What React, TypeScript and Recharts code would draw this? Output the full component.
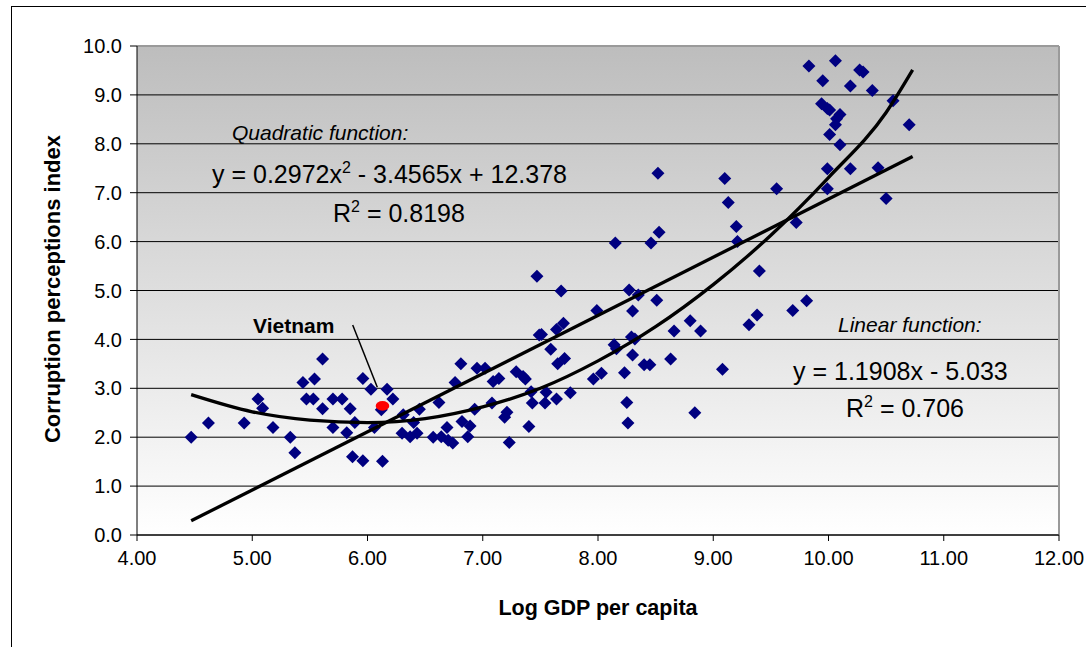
import { ScatterChart, Scatter, XAxis, YAxis, CartesianGrid, ReferenceLine } from 'recharts'

// axis ticks
const xTicks = [4, 5, 6, 7, 8, 9, 10, 11, 12]
const yTicks = [0, 1, 2, 3, 4, 5, 6, 7, 8, 9, 10]

// [log GDP per capita, CPI]
const countryPairs: [number, number][] = [
  [4.47, 2.0], [4.62, 2.29], [4.93, 2.29], [5.05, 2.78], [5.09, 2.59], [5.18, 2.2], [5.33, 2.0],
  [5.37, 1.68], [5.44, 3.12], [5.47, 2.78], [5.53, 2.78], [5.54, 3.19], [5.61, 3.6], [5.61, 2.58],
  [5.7, 2.78], [5.7, 2.2], [5.78, 2.78], [5.82, 2.09], [5.85, 2.58], [5.87, 1.6], [5.89, 2.3],
  [5.96, 3.2], [5.96, 1.52], [6.03, 2.98], [6.06, 2.2], [6.12, 2.56], [6.13, 1.51], [6.17, 2.98],
  [6.22, 2.78], [6.3, 2.08], [6.31, 2.46], [6.37, 2.01], [6.4, 2.3], [6.43, 2.08], [6.45, 2.57],
  [6.57, 2.0], [6.62, 2.71], [6.64, 2.01], [6.69, 2.2], [6.7, 1.94], [6.74, 1.88], [6.76, 3.12],
  [6.81, 3.5], [6.82, 2.32], [6.87, 2.01], [6.89, 2.23], [6.93, 2.57], [6.95, 3.41], [7.02, 3.41],
  [7.08, 2.7], [7.09, 3.14], [7.14, 3.2], [7.19, 2.41], [7.21, 2.51], [7.23, 1.89], [7.29, 3.34],
  [7.35, 3.24], [7.37, 3.19], [7.4, 2.22], [7.42, 2.93], [7.43, 2.7], [7.47, 5.29], [7.49, 4.09],
  [7.51, 4.1], [7.54, 2.7], [7.55, 2.92], [7.59, 3.8], [7.64, 4.2], [7.64, 2.78], [7.65, 3.5],
  [7.68, 4.99], [7.7, 4.33], [7.71, 3.61], [7.76, 2.91], [7.96, 3.19], [7.99, 4.59], [8.03, 3.31],
  [8.14, 3.89], [8.15, 5.97], [8.16, 3.81], [8.23, 3.32], [8.25, 2.71], [8.26, 2.29], [8.27, 5.01],
  [8.29, 4.05], [8.3, 4.58], [8.3, 3.68], [8.32, 4.01], [8.35, 4.91], [8.4, 3.48], [8.45, 3.48],
  [8.46, 5.97], [8.51, 4.8], [8.52, 7.4], [8.53, 6.19], [8.63, 3.6], [8.66, 4.17], [8.8, 4.38],
  [8.84, 2.5], [8.89, 4.17], [9.08, 3.39], [9.1, 7.29], [9.13, 6.8], [9.2, 6.31], [9.21, 6.0],
  [9.31, 4.3], [9.38, 4.5], [9.4, 5.4], [9.55, 7.08], [9.69, 4.59], [9.72, 6.39], [9.81, 4.79],
  [9.83, 9.59], [9.94, 8.82], [9.95, 9.29], [9.99, 8.72], [9.99, 7.49], [9.99, 7.08], [10.01, 8.69],
  [10.01, 8.19], [10.06, 9.7], [10.06, 8.39], [10.07, 8.51], [10.1, 8.6], [10.1, 7.98], [10.19, 9.18],
  [10.19, 7.49], [10.27, 9.51], [10.3, 9.47], [10.38, 9.09], [10.43, 7.51], [10.5, 6.88],
  [10.56, 8.88], [10.7, 8.39],
]
const vietnam = [{ x: 6.13, y: 2.64 }]

// trend lines as drawn
const linearFit = [{ x: 4.47, y: 0.29 }, { x: 10.73, y: 7.74 }]
const quadX = [4.47, 5.0, 5.5, 6.0, 6.5, 7.0, 7.5, 8.0, 8.5, 9.0, 9.5, 10.0, 10.5, 10.73]
const quadY = [2.87, 2.52, 2.35, 2.30, 2.38, 2.62, 3.0, 3.56, 4.26, 5.12, 6.13, 7.31, 8.64, 9.51]

const countries = countryPairs.map(([x, y]) => ({ x, y }))
const quadraticFit = quadX.map((x, i) => ({ x, y: quadY[i] }))

const FONT = '"Liberation Sans", Arial, sans-serif'

const Diamond = (props: any) => {
  const { cx, cy } = props
  const r = 6.5
  return <polygon points={`${cx},${cy - r} ${cx + r},${cy} ${cx},${cy + r} ${cx - r},${cy}`} fill="#000080" />
}

const RedDot = (props: any) => <ellipse cx={props.cx} cy={props.cy} rx={6.8} ry={4.8} fill="#ff0000" />

const NoShape = () => <g />

export default function App() {
  return (
    <div style={{ position: 'absolute', left: 0, top: 0, width: 1086, height: 647, overflow: 'hidden', background: '#fff' }}>
      <div style={{ position: 'absolute', left: 11, top: 6, width: 1200, height: 800, borderLeft: '1px solid #000', borderTop: '1px solid #000' }} />
      <ScatterChart width={1086} height={647} margin={{ top: 46, right: 27, bottom: 0, left: 0 }} style={{ position: 'absolute', left: 0, top: 0 }}>
        <defs>
          <linearGradient id="plotBg" x1="0" y1="0" x2="0" y2="1">
            <stop offset="0%" stopColor="#bdbdbd" />
            <stop offset="100%" stopColor="#ffffff" />
          </linearGradient>
        </defs>
        <CartesianGrid vertical={false} stroke="#000" strokeWidth={1} fill="url(#plotBg)" fillOpacity={1} />
        <XAxis
          type="number"
          dataKey="x"
          domain={[4, 12]}
          ticks={xTicks}
          tickFormatter={(v: number) => v.toFixed(2)}
          height={112}
          tickSize={6}
          tickMargin={10}
          axisLine={{ stroke: '#000' }}
          tickLine={{ stroke: '#000' }}
          tick={{ fill: '#000', fontSize: 20, fontFamily: FONT }}
          interval={0}
        />
        <YAxis
          type="number"
          dataKey="y"
          domain={[0, 10]}
          ticks={yTicks}
          tickFormatter={(v: number) => v.toFixed(1)}
          width={137}
          tickSize={7}
          tickMargin={8}
          axisLine={{ stroke: '#000' }}
          tickLine={{ stroke: '#000' }}
          tick={{ fill: '#000', fontSize: 20, fontFamily: FONT }}
          interval={0}
        />
        <ReferenceLine y={10} stroke="#9a9a9a" strokeWidth={2} />
        <ReferenceLine x={12} stroke="#9a9a9a" strokeWidth={2} />
        <Scatter data={countries} shape={Diamond} isAnimationActive={false} />
        <Scatter data={linearFit} shape={NoShape} line={{ stroke: '#000', strokeWidth: 3.3 }} isAnimationActive={false} />
        <Scatter
          data={quadraticFit}
          shape={NoShape}
          line={{ stroke: '#000', strokeWidth: 3.3 }}
          lineJointType="monotoneX"
          isAnimationActive={false}
        />
        <Scatter data={vietnam} shape={RedDot} isAnimationActive={false} />
      </ScatterChart>
      <svg width={1086} height={647} style={{ position: 'absolute', left: 0, top: 0, pointerEvents: 'none' }} fontFamily={FONT}>
        <text x={52} y={289} transform="rotate(-90 52 289)" textAnchor="middle" dominantBaseline="central" fontSize={22} fontWeight="bold" fill="#000">
          Corruption perceptions index
        </text>
        <text x={598} y={608} textAnchor="middle" dominantBaseline="central" fontSize={21.5} fontWeight="bold" fill="#000">
          Log GDP per capita
        </text>
        <text x={232} y={140} fontSize={21} fontStyle="italic" fill="#000">Quadratic function:</text>
        <text x={212} y={183} fontSize={25} fill="#000">
          y = 0.2972x<tspan fontSize={16} dy={-10}>2</tspan><tspan dy={10}> - 3.4565x + 12.378</tspan>
        </text>
        <text x={333} y={222} fontSize={25} fill="#000">
          R<tspan fontSize={16} dy={-10}>2</tspan><tspan dy={10}> = 0.8198</tspan>
        </text>
        <text x={838} y={332} fontSize={21} fontStyle="italic" fill="#000">Linear function:</text>
        <text x={793} y={380} fontSize={25} fill="#000">y = 1.1908x - 5.033</text>
        <text x={846} y={417} fontSize={25} fill="#000">
          R<tspan fontSize={16} dy={-10}>2</tspan><tspan dy={10}> = 0.706</tspan>
        </text>
        <text x={253} y={333} fontSize={21} fontWeight="bold" fill="#000">Vietnam</text>
        <line x1={352.7} y1={325} x2={377.3} y2={387.3} stroke="#000" strokeWidth={1.5} />
      </svg>
    </div>
  )
}
